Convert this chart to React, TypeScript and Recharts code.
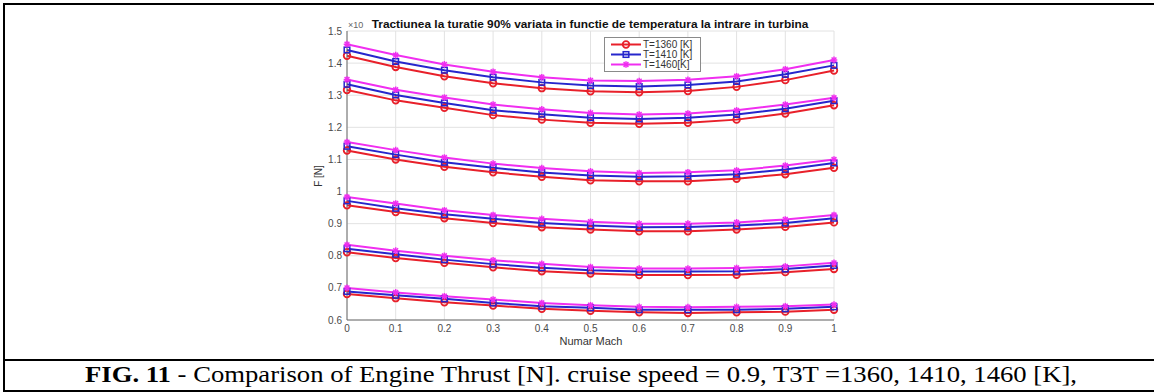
import React from 'react'
import { LineChart, Line, XAxis, YAxis, CartesianGrid } from 'recharts'

// Mach numbers on the x axis
const mach = [0, 0.1, 0.2, 0.3, 0.4, 0.5, 0.6, 0.7, 0.8, 0.9, 1]
const xTicks = [0, 0.1, 0.2, 0.3, 0.4, 0.5, 0.6, 0.7, 0.8, 0.9, 1]
const yTicks = [0.6, 0.7, 0.8, 0.9, 1, 1.1, 1.2, 1.3, 1.4, 1.5]

// thrust (x10^4 N), one row per curve family, T = 1360 K
const f1360 = [
  [1.423, 1.388, 1.359, 1.337, 1.322, 1.312, 1.309, 1.313, 1.326, 1.347, 1.377],
  [1.316, 1.284, 1.261, 1.238, 1.224, 1.214, 1.211, 1.214, 1.224, 1.243, 1.269],
  [1.128, 1.1, 1.077, 1.06, 1.046, 1.035, 1.032, 1.032, 1.04, 1.054, 1.074],
  [0.957, 0.936, 0.917, 0.902, 0.889, 0.882, 0.876, 0.876, 0.882, 0.89, 0.904],
  [0.811, 0.793, 0.778, 0.764, 0.752, 0.745, 0.74, 0.74, 0.741, 0.749, 0.759],
  [0.681, 0.668, 0.655, 0.645, 0.635, 0.629, 0.624, 0.622, 0.624, 0.626, 0.632],
]

// T = 1410 K
const f1410 = [
  [1.441, 1.405, 1.378, 1.356, 1.34, 1.33, 1.327, 1.332, 1.343, 1.365, 1.393],
  [1.334, 1.301, 1.276, 1.253, 1.241, 1.23, 1.226, 1.23, 1.24, 1.258, 1.283],
  [1.141, 1.115, 1.091, 1.074, 1.059, 1.05, 1.046, 1.048, 1.054, 1.069, 1.089],
  [0.971, 0.948, 0.929, 0.915, 0.902, 0.894, 0.889, 0.89, 0.894, 0.902, 0.917],
  [0.822, 0.805, 0.788, 0.774, 0.763, 0.755, 0.751, 0.751, 0.752, 0.759, 0.77],
  [0.689, 0.677, 0.666, 0.653, 0.643, 0.638, 0.632, 0.632, 0.632, 0.635, 0.641],
]

// T = 1460 K
const f1460 = [
  [1.459, 1.425, 1.396, 1.373, 1.356, 1.346, 1.344, 1.348, 1.359, 1.381, 1.41],
  [1.349, 1.317, 1.293, 1.271, 1.256, 1.245, 1.24, 1.243, 1.253, 1.271, 1.292],
  [1.154, 1.129, 1.106, 1.087, 1.073, 1.063, 1.058, 1.06, 1.066, 1.081, 1.1],
  [0.983, 0.963, 0.942, 0.927, 0.915, 0.906, 0.9, 0.9, 0.904, 0.913, 0.927],
  [0.834, 0.816, 0.8, 0.786, 0.775, 0.765, 0.76, 0.76, 0.762, 0.767, 0.778],
  [0.7, 0.686, 0.674, 0.664, 0.653, 0.646, 0.641, 0.64, 0.641, 0.643, 0.648],
]

const legendLabels = ['T=1360 [K]', 'T=1410 [K]', 'T=1460[K]']

const RED = '#e8202a'
const BLUE = '#2626cc'
const MAGENTA = '#f02ef0'

const series = [
  { key: 'r', rows: f1360, color: RED, marker: 'circle' },
  { key: 'b', rows: f1410, color: BLUE, marker: 'square' },
  { key: 'm', rows: f1460, color: MAGENTA, marker: 'star' },
]

const data = mach.map((m, i) => {
  const row: any = { mach: m }
  series.forEach((s) => {
    s.rows.forEach((r, g) => {
      row[`${s.key}${g}`] = r[i]
    })
  })
  return row
})

const Marker = ({ type, color, cx, cy }: any) => {
  if (cx == null || cy == null) return null
  if (type === 'circle') {
    return <circle cx={cx} cy={cy} r={3.3} fill="none" stroke={color} strokeWidth={1.8} />
  }
  if (type === 'square') {
    return <rect x={cx - 2.8} y={cy - 2.8} width={5.6} height={5.6} fill="none" stroke={color} strokeWidth={1.5} />
  }
  const s = 3.3
  const d = 2.4
  return (
    <g stroke={color} strokeWidth={1.5}>
      <line x1={cx - s} y1={cy} x2={cx + s} y2={cy} />
      <line x1={cx} y1={cy - s} x2={cx} y2={cy + s} />
      <line x1={cx - d} y1={cy - d} x2={cx + d} y2={cy + d} />
      <line x1={cx - d} y1={cy + d} x2={cx + d} y2={cy - d} />
    </g>
  )
}

const fmt = (v: number) => String(Number(v.toFixed(1)))
const tickStyle = { fill: '#4a4a4a', fontSize: 10, fontFamily: 'Liberation Sans, Arial, sans-serif' }
const boxStroke = '#6a6a6a'

const Hline = ({ top }: { top: number }) => (
  <div style={{ position: 'absolute', left: 3, top, width: 1151, height: 2, background: '#000' }} />
)

export default function App() {
  return (
    <div style={{ position: 'absolute', left: 0, top: 0, width: 1154, height: 392, background: '#fff', overflow: 'hidden' }}>
      <Hline top={3} />
      <Hline top={359} />
      <Hline top={390} />
      <div style={{ position: 'absolute', left: 3, top: 3, width: 2, height: 389, background: '#000' }} />

      <div style={{ position: 'absolute', left: 0, top: 0 }}>
        <LineChart
          width={1154}
          height={392}
          data={data}
          margin={{ top: 31, right: 320, bottom: 52, left: 307 }}
        >
          <CartesianGrid stroke="#e2e2e2" strokeWidth={1} horizontalValues={yTicks} verticalValues={xTicks} />
          <XAxis
            dataKey="mach"
            type="number"
            domain={[0, 1]}
            ticks={xTicks}
            tickFormatter={fmt}
            height={20}
            tickSize={0}
            tickMargin={5}
            tickLine={false}
            axisLine={{ stroke: boxStroke }}
            tick={tickStyle}
          />
          <XAxis xAxisId="bm" dataKey="mach" type="number" domain={[0, 1]} ticks={xTicks} mirror tick={false} tickSize={5} tickLine={{ stroke: boxStroke }} axisLine={false} height={0} />
          <XAxis xAxisId="tm" orientation="top" dataKey="mach" type="number" domain={[0, 1]} ticks={xTicks} mirror tick={false} tickSize={5} tickLine={{ stroke: boxStroke }} axisLine={{ stroke: boxStroke }} height={0} />
          <YAxis
            type="number"
            domain={[0.6, 1.5]}
            ticks={yTicks}
            tickFormatter={fmt}
            width={40}
            tickSize={0}
            tickMargin={5}
            tickLine={false}
            axisLine={{ stroke: boxStroke }}
            tick={tickStyle}
            allowDataOverflow
          />
          <YAxis yAxisId="lm" type="number" domain={[0.6, 1.5]} ticks={yTicks} mirror tick={false} tickSize={5} tickLine={{ stroke: boxStroke }} axisLine={false} width={0} />
          <YAxis yAxisId="rm" orientation="right" type="number" domain={[0.6, 1.5]} ticks={yTicks} mirror tick={false} tickSize={5} tickLine={{ stroke: boxStroke }} axisLine={{ stroke: boxStroke }} width={0} />
          {series.map((s) =>
            s.rows.map((_, g) => (
              <Line
                key={`${s.key}${g}`}
                dataKey={`${s.key}${g}`}
                type="linear"
                stroke={s.color}
                strokeWidth={2}
                dot={(p: any) => <Marker key={`${s.key}${g}-${p.index}`} type={s.marker} color={s.color} cx={p.cx} cy={p.cy} />}
                activeDot={false}
                isAnimationActive={false}
              />
            ))
          )}
        </LineChart>
      </div>

      <svg width={1154} height={392} style={{ position: 'absolute', left: 0, top: 0, pointerEvents: 'none' }}>
        <g fontFamily="Liberation Sans, Arial, sans-serif">
          <text x={348} y={28} fontSize={9} fill="#666">×10</text>
          <text transform="translate(590 28) scale(1.08 1)" fontSize={11} fontWeight="bold" fill="#111" textAnchor="middle">
            Tractiunea la turatie 90% variata in functie de temperatura la intrare in turbina
          </text>
          <text x={318} y={176} fontSize={10} fill="#333" textAnchor="middle" dominantBaseline="central" transform="rotate(-90 318 176)">
            F [N]
          </text>
          <text x={591} y={345} fontSize={11} fill="#333" textAnchor="middle">Numar Mach</text>

          <rect x={604.5} y={37.5} width={96} height={34} fill="#fff" stroke="#8a8a8a" strokeWidth={1} />
          {series.map((s, i) => {
            const y = 44.5 + i * 10
            return (
              <g key={s.key}>
                <line x1={611} y1={y} x2={641} y2={y} stroke={s.color} strokeWidth={2} />
                <Marker type={s.marker} color={s.color} cx={626} cy={y} />
                <text x={643} y={y + 3.4} fontSize={10} fill="#333">{legendLabels[i]}</text>
              </g>
            )
          })}
        </g>
        <text transform="translate(85 382) scale(1.16 1)" fontSize={23} fill="#000" fontFamily="Liberation Serif, Times New Roman, serif">
          <tspan fontWeight="bold">FIG. 11</tspan>
          <tspan> - Comparison of Engine Thrust [N]. cruise speed = 0.9, T3T =1360, 1410, 1460 [K],</tspan>
        </text>
      </svg>
    </div>
  )
}
